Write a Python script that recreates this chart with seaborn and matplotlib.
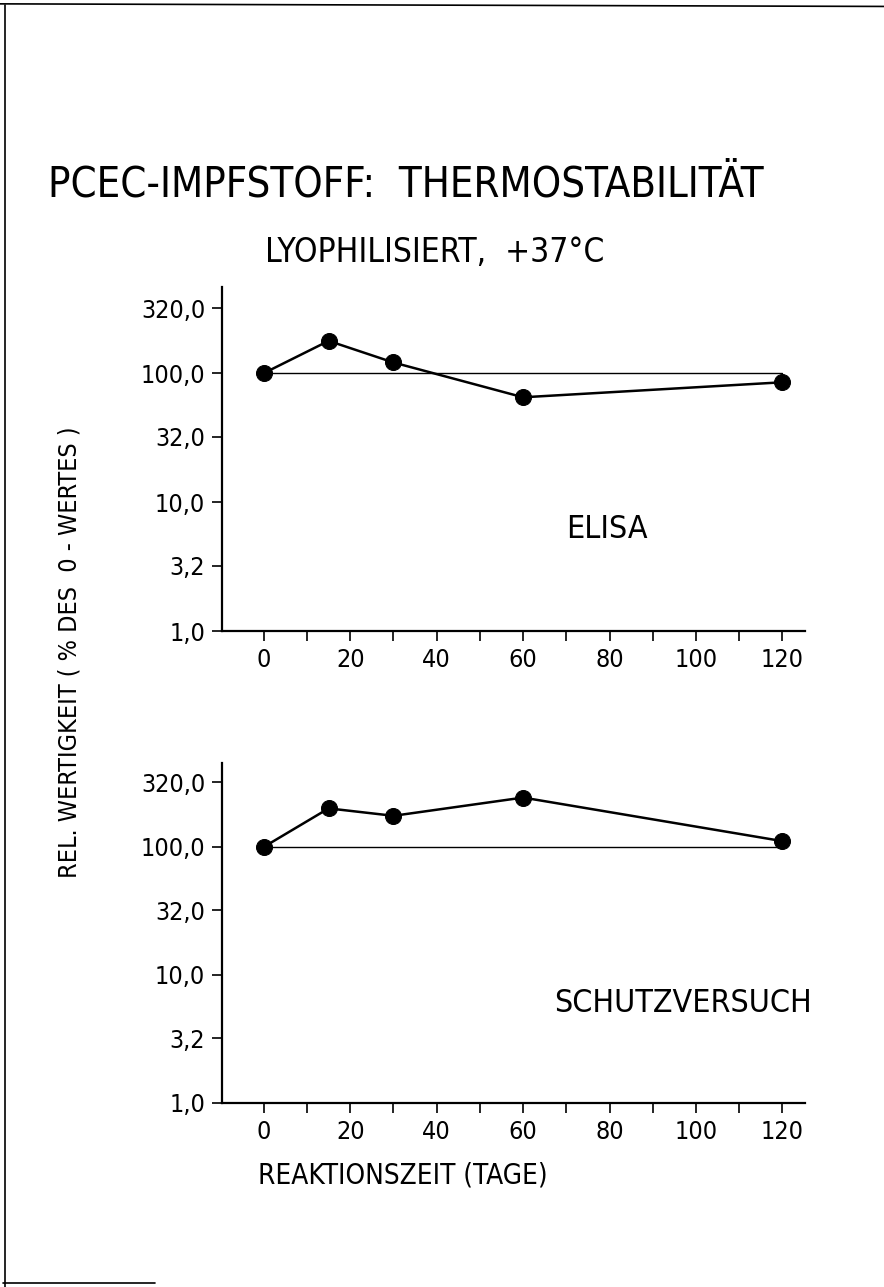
import matplotlib
matplotlib.use("Agg")
import matplotlib.pyplot as plt
from matplotlib import font_manager
from matplotlib.lines import Line2D
import seaborn as sns
import pandas as pd

# ==========================================
# DATOS
# ==========================================
dias_elisa = [0, 15, 30, 60, 120]
valor_elisa = [100, 178, 121, 65, 85]

dias_schutz = [0, 15, 30, 60, 120]
valor_schutz = [100, 200, 175, 243, 111]

ref_dias = [0, 120]
ref_valor = [100, 100]

y_ticks = [1.0, 3.2, 10.0, 32.0, 100.0, 320.0]
y_labels = ["1,0", "3,2", "10,0", "32,0", "100,0", "320,0"]
x_ticks = list(range(0, 121, 10))
x_labels = [str(t) if t % 20 == 0 else "" for t in x_ticks]

# ==========================================
# ESTILO
# ==========================================
sns.set_theme(style="ticks")


def elegir_fuente():
    nombres = {(f.name, f.stretch) for f in font_manager.fontManager.ttflist}
    if any(n == "Liberation Sans Narrow" for n, _ in nombres):
        return "Liberation Sans Narrow", "normal"
    if ("DejaVu Sans", "condensed") in nombres:
        return "DejaVu Sans", "condensed"
    return "DejaVu Sans", "normal"


FAMILIA, ESTIRAMIENTO = elegir_fuente()
plt.rcParams["font.family"] = [FAMILIA, "DejaVu Sans"]
plt.rcParams["font.stretch"] = ESTIRAMIENTO
plt.rcParams["text.color"] = "black"
plt.rcParams["axes.labelcolor"] = "black"
plt.rcParams["xtick.color"] = "black"
plt.rcParams["ytick.color"] = "black"


def preparar_eje(ax, dias, valores, y_max):
    df = pd.DataFrame({"dia": dias, "valor": valores})
    ax.plot(ref_dias, ref_valor, color="black", lw=1.0, zorder=2)
    sns.lineplot(data=df, x="dia", y="valor", ax=ax, color="black",
                 lw=1.8, marker="o", markersize=11.5, markeredgecolor="black",
                 zorder=3)
    ax.set_yscale("log")
    ax.set_xlim(-9.7, 125.3)
    ax.set_ylim(1.0, y_max)
    ax.set_yticks(y_ticks)
    ax.set_yticklabels(y_labels)
    ax.minorticks_off()
    ax.set_xticks(x_ticks)
    ax.set_xticklabels(x_labels)
    ax.set_xlabel("")
    ax.set_ylabel("")
    ax.tick_params(axis="both", direction="out", length=7, width=1.2,
                   labelsize=18, pad=5)
    for lado in ["top", "right"]:
        ax.spines[lado].set_visible(False)
    for lado in ["left", "bottom"]:
        ax.spines[lado].set_linewidth(1.6)
        ax.spines[lado].set_color("black")
    ax.set_facecolor("white")


fig = plt.figure(figsize=(8.84, 12.87), dpi=100)
fig.patch.set_facecolor("white")

ax1 = fig.add_axes([0.251, 0.5097, 0.660, 0.2673])
ax2 = fig.add_axes([0.251, 0.143, 0.660, 0.2642])

preparar_eje(ax1, dias_elisa, valor_elisa, 466)
preparar_eje(ax2, dias_schutz, valor_schutz, 453)

ax1.text(79.5, 6.1, "ELISA", ha="center", va="center", fontsize=23)
ax2.text(97, 6.0, "SCHUTZVERSUCH", ha="center", va="center", fontsize=23)

fig.text(0.459, 0.857, "PCEC-IMPFSTOFF:  THERMOSTABILITÄT",
         ha="center", va="center", fontsize=30)
fig.text(0.492, 0.804, "LYOPHILISIERT,  +37°C",
         ha="center", va="center", fontsize=24)
fig.text(0.079, 0.493, "REL. WERTIGKEIT ( % DES  0 - WERTES )",
         ha="center", va="center", rotation=90, fontsize=18)
fig.text(0.456, 0.087, "REAKTIONSZEIT (TAGE)",
         ha="center", va="center", fontsize=20)

# bordes del escaneo
fig.add_artist(Line2D([0.006, 0.006], [0.0, 0.996], color="black", lw=1.2))
fig.add_artist(Line2D([0.0, 1.0], [0.997, 0.995], color="black", lw=1.2))
fig.add_artist(Line2D([0.003, 0.175], [0.003, 0.003], color="black", lw=1.2))

fig.savefig("out.png", dpi=100, facecolor="white")
